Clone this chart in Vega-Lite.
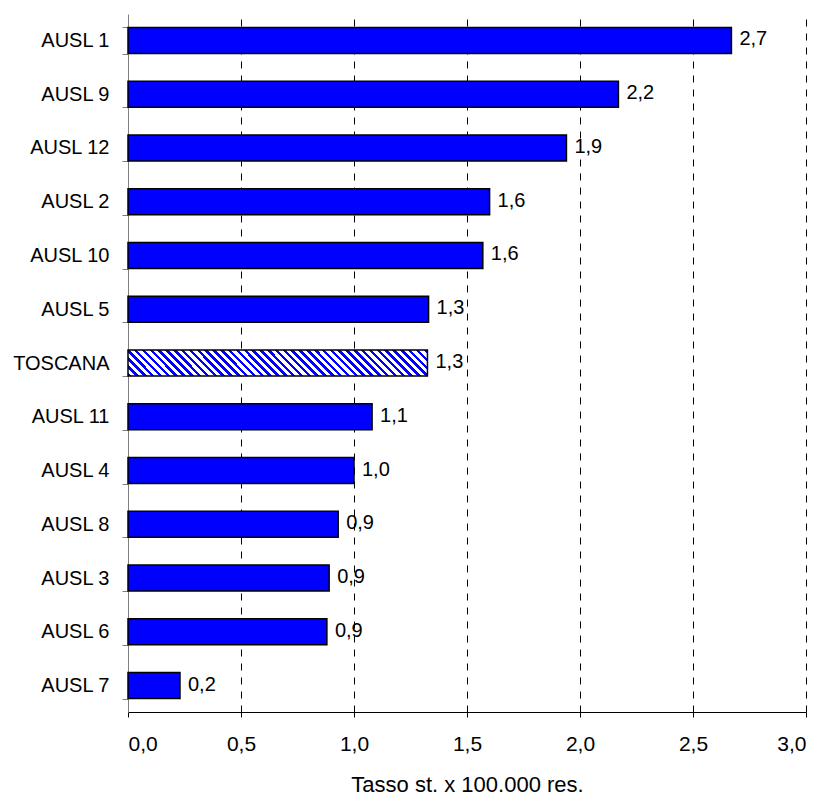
{
  "$schema": "https://vega.github.io/schema/vega-lite/v6.json",
  "width": 678,
  "height": 698,
  "autosize": {"type": "none"},
  "padding": {"left": 128, "top": 14, "right": 18, "bottom": 84},
  "background": "white",
  "config": {"view": {"stroke": null}, "font": "Liberation Sans"},
  "data": {
    "values": [
      {"region": "AUSL 1", "value": 2.67, "label": "2,7"},
      {"region": "AUSL 9", "value": 2.17, "label": "2,2"},
      {"region": "AUSL 12", "value": 1.94, "label": "1,9"},
      {"region": "AUSL 2", "value": 1.60, "label": "1,6"},
      {"region": "AUSL 10", "value": 1.57, "label": "1,6"},
      {"region": "AUSL 5", "value": 1.33, "label": "1,3"},
      {"region": "TOSCANA", "value": 1.325, "label": "1,3"},
      {"region": "AUSL 11", "value": 1.08, "label": "1,1"},
      {"region": "AUSL 4", "value": 1.0, "label": "1,0"},
      {"region": "AUSL 8", "value": 0.93, "label": "0,9"},
      {"region": "AUSL 3", "value": 0.89, "label": "0,9"},
      {"region": "AUSL 6", "value": 0.88, "label": "0,9"},
      {"region": "AUSL 7", "value": 0.23, "label": "0,2"}
    ]
  },
  "encoding": {
    "y": {
      "field": "region",
      "type": "nominal",
      "sort": ["AUSL 1", "AUSL 9", "AUSL 12", "AUSL 2", "AUSL 10", "AUSL 5", "TOSCANA", "AUSL 11", "AUSL 4", "AUSL 8", "AUSL 3", "AUSL 6", "AUSL 7"],
      "scale": {"paddingInner": 0.515, "paddingOuter": 0.25},
      "axis": {
        "title": null,
        "domainColor": "#808080",
        "domainWidth": 1,
        "tickColor": "#808080",
        "tickSize": 6,
        "tickBand": "extent",
        "labelFont": "Liberation Sans",
        "labelFontSize": 20,
        "labelColor": "black",
        "labelPadding": 13,
        "grid": false
      }
    },
    "x": {
      "field": "value",
      "type": "quantitative",
      "scale": {"domain": [0, 3], "nice": false},
      "axis": {
        "title": "Tasso st. x 100.000 res.",
        "titleFont": "Liberation Sans",
        "titleFontSize": 22,
        "titleFontWeight": "normal",
        "titleColor": "black",
        "titleBaseline": "alphabetic",
        "titleY": 79,
        "values": [0, 0.5, 1, 1.5, 2, 2.5, 3],
        "labelExpr": "replace(format(datum.value, '.1f'), '.', ',')",
        "labelFont": "Liberation Sans",
        "labelFontSize": 21,
        "labelColor": "black",
        "labelPadding": 16,
        "domainColor": "black",
        "domainWidth": 1,
        "tickColor": "black",
        "tickSize": 5,
        "grid": true,
        "gridColor": "black",
        "gridWidth": 1,
        "gridDash": [7, 7],
        "gridOpacity": {"expr": "datum.value == 0 ? 0 : 1"}
      }
    }
  },
  "layer": [
    {
      "transform": [{"filter": "datum.region != 'TOSCANA'"}],
      "mark": {"type": "bar", "fill": "#0000FF", "stroke": "black", "strokeWidth": 1.5}
    },
    {
      "transform": [{"filter": "datum.region == 'TOSCANA'"}],
      "mark": {
        "type": "bar",
        "stroke": "black",
        "strokeWidth": 1.5,
        "fill": {
          "gradient": "linear",
          "x1": 0, "y1": 1, "x2": 1.09, "y2": 0.9055,
          "stops": [
            {"offset": 0, "color": "#0000FF"}, {"offset": 0.0107, "color": "#0000FF"}, {"offset": 0.0107, "color": "white"}, {"offset": 0.0238, "color": "white"},
            {"offset": 0.0238, "color": "#0000FF"}, {"offset": 0.0345, "color": "#0000FF"}, {"offset": 0.0345, "color": "white"}, {"offset": 0.0476, "color": "white"},
            {"offset": 0.0476, "color": "#0000FF"}, {"offset": 0.0583, "color": "#0000FF"}, {"offset": 0.0583, "color": "white"}, {"offset": 0.0714, "color": "white"},
            {"offset": 0.0714, "color": "#0000FF"}, {"offset": 0.0821, "color": "#0000FF"}, {"offset": 0.0821, "color": "white"}, {"offset": 0.0952, "color": "white"},
            {"offset": 0.0952, "color": "#0000FF"}, {"offset": 0.1060, "color": "#0000FF"}, {"offset": 0.1060, "color": "white"}, {"offset": 0.1190, "color": "white"},
            {"offset": 0.1190, "color": "#0000FF"}, {"offset": 0.1298, "color": "#0000FF"}, {"offset": 0.1298, "color": "white"}, {"offset": 0.1429, "color": "white"},
            {"offset": 0.1429, "color": "#0000FF"}, {"offset": 0.1536, "color": "#0000FF"}, {"offset": 0.1536, "color": "white"}, {"offset": 0.1667, "color": "white"},
            {"offset": 0.1667, "color": "#0000FF"}, {"offset": 0.1774, "color": "#0000FF"}, {"offset": 0.1774, "color": "white"}, {"offset": 0.1905, "color": "white"},
            {"offset": 0.1905, "color": "#0000FF"}, {"offset": 0.2012, "color": "#0000FF"}, {"offset": 0.2012, "color": "white"}, {"offset": 0.2143, "color": "white"},
            {"offset": 0.2143, "color": "#0000FF"}, {"offset": 0.2250, "color": "#0000FF"}, {"offset": 0.2250, "color": "white"}, {"offset": 0.2381, "color": "white"},
            {"offset": 0.2381, "color": "#0000FF"}, {"offset": 0.2488, "color": "#0000FF"}, {"offset": 0.2488, "color": "white"}, {"offset": 0.2619, "color": "white"},
            {"offset": 0.2619, "color": "#0000FF"}, {"offset": 0.2726, "color": "#0000FF"}, {"offset": 0.2726, "color": "white"}, {"offset": 0.2857, "color": "white"},
            {"offset": 0.2857, "color": "#0000FF"}, {"offset": 0.2964, "color": "#0000FF"}, {"offset": 0.2964, "color": "white"}, {"offset": 0.3095, "color": "white"},
            {"offset": 0.3095, "color": "#0000FF"}, {"offset": 0.3202, "color": "#0000FF"}, {"offset": 0.3202, "color": "white"}, {"offset": 0.3333, "color": "white"},
            {"offset": 0.3333, "color": "#0000FF"}, {"offset": 0.3440, "color": "#0000FF"}, {"offset": 0.3440, "color": "white"}, {"offset": 0.3571, "color": "white"},
            {"offset": 0.3571, "color": "#0000FF"}, {"offset": 0.3679, "color": "#0000FF"}, {"offset": 0.3679, "color": "white"}, {"offset": 0.3810, "color": "white"},
            {"offset": 0.3810, "color": "#0000FF"}, {"offset": 0.3917, "color": "#0000FF"}, {"offset": 0.3917, "color": "white"}, {"offset": 0.4048, "color": "white"},
            {"offset": 0.4048, "color": "#0000FF"}, {"offset": 0.4155, "color": "#0000FF"}, {"offset": 0.4155, "color": "white"}, {"offset": 0.4286, "color": "white"},
            {"offset": 0.4286, "color": "#0000FF"}, {"offset": 0.4393, "color": "#0000FF"}, {"offset": 0.4393, "color": "white"}, {"offset": 0.4524, "color": "white"},
            {"offset": 0.4524, "color": "#0000FF"}, {"offset": 0.4631, "color": "#0000FF"}, {"offset": 0.4631, "color": "white"}, {"offset": 0.4762, "color": "white"},
            {"offset": 0.4762, "color": "#0000FF"}, {"offset": 0.4869, "color": "#0000FF"}, {"offset": 0.4869, "color": "white"}, {"offset": 0.5, "color": "white"},
            {"offset": 0.5, "color": "#0000FF"}, {"offset": 0.5107, "color": "#0000FF"}, {"offset": 0.5107, "color": "white"}, {"offset": 0.5238, "color": "white"},
            {"offset": 0.5238, "color": "#0000FF"}, {"offset": 0.5345, "color": "#0000FF"}, {"offset": 0.5345, "color": "white"}, {"offset": 0.5476, "color": "white"},
            {"offset": 0.5476, "color": "#0000FF"}, {"offset": 0.5583, "color": "#0000FF"}, {"offset": 0.5583, "color": "white"}, {"offset": 0.5714, "color": "white"},
            {"offset": 0.5714, "color": "#0000FF"}, {"offset": 0.5821, "color": "#0000FF"}, {"offset": 0.5821, "color": "white"}, {"offset": 0.5952, "color": "white"},
            {"offset": 0.5952, "color": "#0000FF"}, {"offset": 0.6060, "color": "#0000FF"}, {"offset": 0.6060, "color": "white"}, {"offset": 0.6190, "color": "white"},
            {"offset": 0.6190, "color": "#0000FF"}, {"offset": 0.6298, "color": "#0000FF"}, {"offset": 0.6298, "color": "white"}, {"offset": 0.6429, "color": "white"},
            {"offset": 0.6429, "color": "#0000FF"}, {"offset": 0.6536, "color": "#0000FF"}, {"offset": 0.6536, "color": "white"}, {"offset": 0.6667, "color": "white"},
            {"offset": 0.6667, "color": "#0000FF"}, {"offset": 0.6774, "color": "#0000FF"}, {"offset": 0.6774, "color": "white"}, {"offset": 0.6905, "color": "white"},
            {"offset": 0.6905, "color": "#0000FF"}, {"offset": 0.7012, "color": "#0000FF"}, {"offset": 0.7012, "color": "white"}, {"offset": 0.7143, "color": "white"},
            {"offset": 0.7143, "color": "#0000FF"}, {"offset": 0.7250, "color": "#0000FF"}, {"offset": 0.7250, "color": "white"}, {"offset": 0.7381, "color": "white"},
            {"offset": 0.7381, "color": "#0000FF"}, {"offset": 0.7488, "color": "#0000FF"}, {"offset": 0.7488, "color": "white"}, {"offset": 0.7619, "color": "white"},
            {"offset": 0.7619, "color": "#0000FF"}, {"offset": 0.7726, "color": "#0000FF"}, {"offset": 0.7726, "color": "white"}, {"offset": 0.7857, "color": "white"},
            {"offset": 0.7857, "color": "#0000FF"}, {"offset": 0.7964, "color": "#0000FF"}, {"offset": 0.7964, "color": "white"}, {"offset": 0.8095, "color": "white"},
            {"offset": 0.8095, "color": "#0000FF"}, {"offset": 0.8202, "color": "#0000FF"}, {"offset": 0.8202, "color": "white"}, {"offset": 0.8333, "color": "white"},
            {"offset": 0.8333, "color": "#0000FF"}, {"offset": 0.8440, "color": "#0000FF"}, {"offset": 0.8440, "color": "white"}, {"offset": 0.8571, "color": "white"},
            {"offset": 0.8571, "color": "#0000FF"}, {"offset": 0.8679, "color": "#0000FF"}, {"offset": 0.8679, "color": "white"}, {"offset": 0.8810, "color": "white"},
            {"offset": 0.8810, "color": "#0000FF"}, {"offset": 0.8917, "color": "#0000FF"}, {"offset": 0.8917, "color": "white"}, {"offset": 0.9048, "color": "white"},
            {"offset": 0.9048, "color": "#0000FF"}, {"offset": 0.9155, "color": "#0000FF"}, {"offset": 0.9155, "color": "white"}, {"offset": 0.9286, "color": "white"},
            {"offset": 0.9286, "color": "#0000FF"}, {"offset": 0.9393, "color": "#0000FF"}, {"offset": 0.9393, "color": "white"}, {"offset": 0.9524, "color": "white"},
            {"offset": 0.9524, "color": "#0000FF"}, {"offset": 0.9631, "color": "#0000FF"}, {"offset": 0.9631, "color": "white"}, {"offset": 0.9762, "color": "white"},
            {"offset": 0.9762, "color": "#0000FF"}, {"offset": 0.9869, "color": "#0000FF"}, {"offset": 0.9869, "color": "white"}, {"offset": 1, "color": "white"}
          ]
        }
      }
    },
    {
      "mark": {"type": "text", "align": "left", "baseline": "middle", "dx": 8, "dy": -1, "font": "Liberation Sans", "fontSize": 20, "color": "black"},
      "encoding": {"text": {"field": "label"}}
    }
  ]
}
